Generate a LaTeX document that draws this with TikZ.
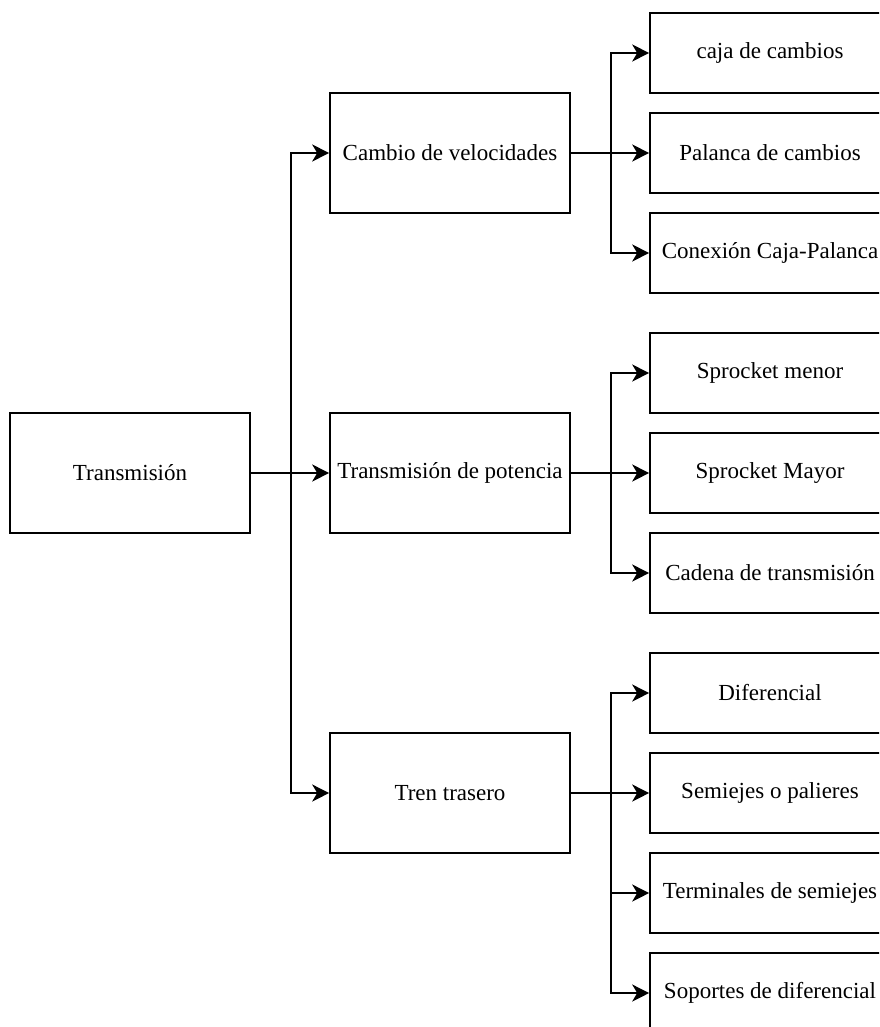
\documentclass[tikz,border=0pt]{standalone}
\usepackage{fontspec}
\setmainfont{Liberation Serif}
\usepackage{tikz}
\usetikzlibrary{arrows.meta}
\tikzset{ebox/.style={draw=black,line width=1.6pt,fill=white,minimum width=240pt,minimum height=120pt,inner sep=2pt,font=\fontsize{23}{27}\selectfont}}
\tikzset{esub/.style={ebox,minimum height=80pt}}
\tikzset{elink/.style={line width=1.6pt,-{Stealth[length=17pt,width=17pt,inset=5pt]}}}

\begin{document}
\begin{tikzpicture}[x=1pt,y=-1pt]
            \path[use as bounding box,clip] (0,0) rectangle (879,1027);
            % draw the main boxes
            \node[ebox] (trans) at (130,473) {Transmisión};
            \node[ebox] (cambio) at (450,153) {Cambio de velocidades};
            \node[ebox] (potencia) at (450,473) {Transmisión de potencia};
            \node[ebox] (tren) at (450,793) {Tren trasero};
            % draw the sub boxes
            \node[esub] (caja) at (770,53) {caja de cambios};
            \node[esub] (palanca) at (770,153) {Palanca de cambios};
            \node[esub] (conexion) at (770,253) {Conexión Caja-Palanca};
            \node[esub] (menor) at (770,373) {Sprocket menor};
            \node[esub] (mayor) at (770,473) {Sprocket Mayor};
            \node[esub] (cadena) at (770,573) {Cadena de transmisión};
            \node[esub] (dif) at (770,693) {Diferencial};
            \node[esub] (semi) at (770,793) {Semiejes o palieres};
            \node[esub] (term) at (770,893) {Terminales de semiejes};
            \node[esub] (soporte) at (770,993) {Soportes de diferencial};

            % draw the links (elbow)
            \foreach \t in {cambio,potencia,tren}
                \draw[elink] (trans.east) -- ++(40,0) |- (\t.west);
            \foreach \t in {caja,palanca,conexion}
                \draw[elink] (cambio.east) -- ++(40,0) |- (\t.west);
            \foreach \t in {menor,mayor,cadena}
                \draw[elink] (potencia.east) -- ++(40,0) |- (\t.west);
            \foreach \t in {dif,semi,term,soporte}
                \draw[elink] (tren.east) -- ++(40,0) |- (\t.west);
        \end{tikzpicture}
\end{document}
